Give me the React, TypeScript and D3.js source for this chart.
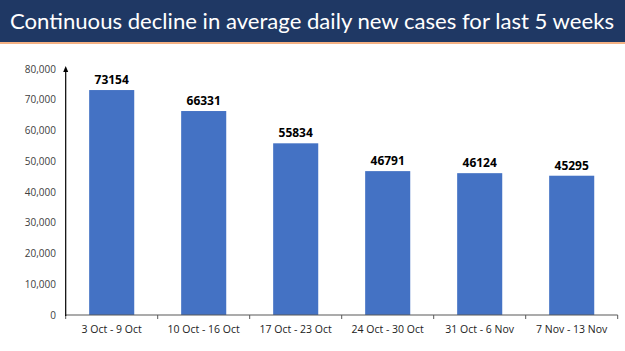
import React from "react";
import * as d3 from "d3";

const categories = ["3 Oct - 9 Oct", "10 Oct - 16 Oct", "17 Oct - 23 Oct", "24 Oct - 30 Oct", "31 Oct - 6 Nov", "7 Nov - 13 Nov"];
const values = [73154, 66331, 55834, 46791, 46124, 45295];
const yTicks = [0, 10000, 20000, 30000, 40000, 50000, 60000, 70000, 80000];
const title = "Continuous decline in average daily new cases for last 5 weeks";

const W = 625, H = 351;
const left = 65.7, right = 617.7, top = 69, bottom = 315;

export default function App() {
  const x = d3.scaleBand<string>().domain(categories).range([left, right]).paddingInner(0.51).paddingOuter(0.255);
  const y = d3.scaleLinear().domain([0, 80000]).range([bottom, top]);
  const fmt = d3.format(",");
  const band = (right - left) / categories.length;
  return (
    <svg width={W} height={H} style={{ position: "absolute", left: 0, top: 0 }} fontFamily="'Open Sans', 'Liberation Sans', sans-serif">
      <rect x={0} y={0} width={W} height={H} fill="#ffffff" />
      <rect x={0} y={0} width={W} height={42} fill="#1f3864" />
      <rect x={0} y={42} width={W} height={2} fill="#f4b183" />
      <text x={312} y={29} textAnchor="middle" fill="#ffffff" fontSize={21.5} fontFamily="Lato, 'Open Sans', sans-serif" textLength={604} lengthAdjust="spacingAndGlyphs">{title}</text>
      {yTicks.map((t) => (
        <text key={t} x={56} y={y(t)} dy="0.35em" textAnchor="end" fontSize={10} fill="#404040">{fmt(t)}</text>
      ))}
      {categories.map((c, i) => (
        <rect key={c} x={x(c)} y={y(values[i])} width={x.bandwidth()} height={bottom - y(values[i])} fill="#4472c4" />
      ))}
      {categories.map((c, i) => (
        <text key={c + "v"} x={(x(c) as number) + x.bandwidth() / 2} y={y(values[i]) - 6} textAnchor="middle" fontSize={12} fontWeight="bold" fill="#000">{values[i]}</text>
      ))}
      {categories.map((c) => (
        <text key={c + "l"} x={(x(c) as number) + x.bandwidth() / 2} y={333} textAnchor="middle" fontSize={10.5} fill="#222">{c}</text>
      ))}
      <line x1={left} x2={right} y1={bottom} y2={bottom} stroke="#595959" strokeWidth={1.2} />
      {d3.range(categories.length + 1).map((i) => (
        <line key={i} x1={left + i * band} x2={left + i * band} y1={bottom} y2={bottom + 4} stroke="#595959" strokeWidth={1} />
      ))}
      <line x1={left} x2={left} y1={bottom + 1} y2={70} stroke="#000" strokeWidth={1.2} />
      <path d={`M${left},66 L${left - 2.5},72 L${left + 2.5},72 Z`} fill="#000" />
    </svg>
  );
}
